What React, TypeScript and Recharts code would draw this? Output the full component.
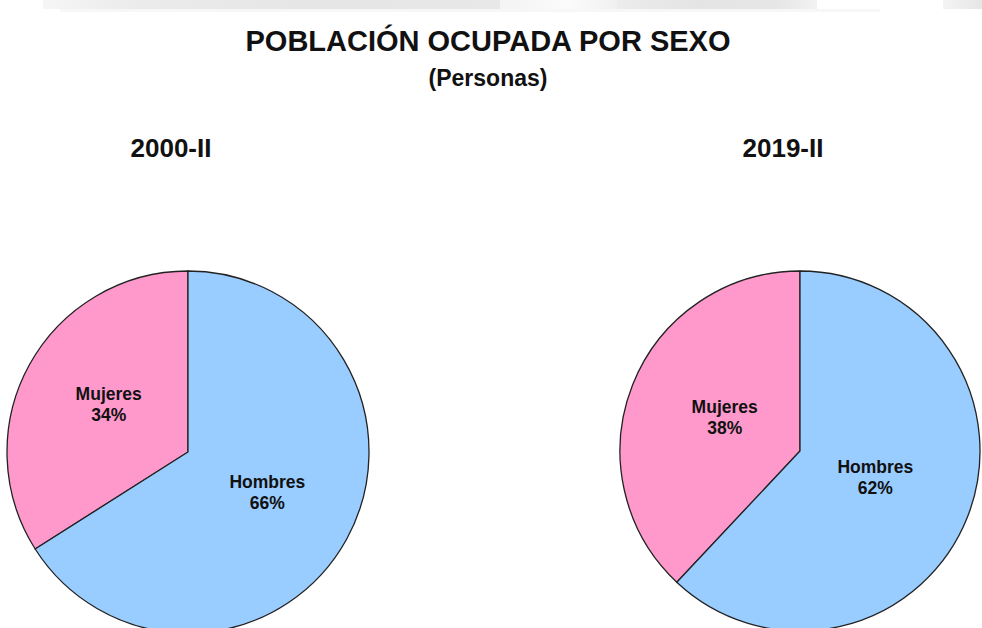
import React from 'react';
import { PieChart, Pie, Cell } from 'recharts';

const sliceNames = ['Mujeres', 'Hombres'];
const values2000 = [34, 66];
const values2019 = [38, 62];
const periodLabels = ['2000-II', '2019-II'];
const titleText = 'POBLACIÓN OCUPADA POR SEXO';
const subtitleText = '(Personas)';

const sliceColors = ['#FF99CC', '#99CCFF'];

const data2000 = sliceNames.map((name, i) => ({ name, value: values2000[i] }));
const data2019 = sliceNames.map((name, i) => ({ name, value: values2019[i] }));

const RAD = Math.PI / 180;
const FONT = '"Liberation Sans", Arial, Helvetica, sans-serif';

const makeLabel = (factor: number) => (props: any) => {
  const { cx, cy, midAngle, outerRadius, name, percent } = props;
  const r = outerRadius * factor;
  const x = cx + r * Math.cos(-midAngle * RAD);
  const y = cy + r * Math.sin(-midAngle * RAD);
  return (
    <text
      x={x}
      y={y}
      textAnchor="middle"
      fontFamily={FONT}
      fontWeight="bold"
      fontSize={17.5}
      fill="#111"
    >
      <tspan x={x} dy={-8}>{name}</tspan>
      <tspan x={x} dy={21}>{`${Math.round(percent * 100)}%`}</tspan>
    </text>
  );
};

const band = (left: number, width: number, top: number, height: number, color: string) => (
  <div style={{ position: 'absolute', left, top, width, height, background: color }} />
);

export default function App() {
  return (
    <div
      style={{
        position: 'absolute',
        left: 0,
        top: 0,
        width: 982,
        height: 628,
        background: '#ffffff',
        overflow: 'hidden',
      }}
    >
      {band(60, 820, 9, 3, '#f7f7f7')}
      {band(43, 457, 0, 9, 'linear-gradient(90deg, #f6f6f6 0%, #ebebeb 20%, #e6e6e6 60%, #e8e8e8 100%)')}
      {band(500, 117, 0, 9, 'linear-gradient(90deg, #f4f4f4 0%, #fbfbfb 60%, #f0f0f0 100%)')}
      {band(617, 200, 0, 9, 'linear-gradient(90deg, #ececec 0%, #e4e4e4 40%, #e6e6e6 80%, #f2f2f2 100%)')}
      {band(943, 39, 0, 9, 'linear-gradient(90deg, #f4f4f4 0%, #e6e6e6 100%)')}
      <div
        style={{
          position: 'absolute',
          left: 0,
          top: 23,
          width: 976,
          textAlign: 'center',
          fontFamily: FONT,
          fontWeight: 'bold',
          fontSize: 29,
          color: '#111',
          lineHeight: '36px',
        }}
      >
        {titleText}
      </div>
      <div
        style={{
          position: 'absolute',
          left: 0,
          top: 64,
          width: 976,
          textAlign: 'center',
          fontFamily: FONT,
          fontWeight: 'bold',
          fontSize: 23,
          color: '#111',
          lineHeight: '28px',
        }}
      >
        {subtitleText}
      </div>
      <div
        style={{
          position: 'absolute',
          left: 71,
          top: 133,
          width: 200,
          textAlign: 'center',
          fontFamily: FONT,
          fontWeight: 'bold',
          fontSize: 26,
          color: '#111',
          lineHeight: '30px',
        }}
      >
        {periodLabels[0]}
      </div>
      <div
        style={{
          position: 'absolute',
          left: 683,
          top: 133,
          width: 200,
          textAlign: 'center',
          fontFamily: FONT,
          fontWeight: 'bold',
          fontSize: 26,
          color: '#111',
          lineHeight: '30px',
        }}
      >
        {periodLabels[1]}
      </div>
      <div style={{ position: 'absolute', left: 0, top: 0 }}>
        <PieChart width={982} height={628} margin={{ top: 0, right: 0, bottom: 0, left: 0 }}>
          <Pie
            data={data2000}
            dataKey="value"
            nameKey="name"
            cx={188}
            cy={452}
            outerRadius={181}
            startAngle={90}
            endAngle={450}
            stroke="#222"
            strokeWidth={1.3}
            label={makeLabel(0.5)}
            labelLine={false}
            isAnimationActive={false}
          >
            {data2000.map((d, i) => (
              <Cell key={d.name} fill={sliceColors[i]} />
            ))}
          </Pie>
          <Pie
            data={data2019}
            dataKey="value"
            nameKey="name"
            cx={800}
            cy={451}
            outerRadius={180}
            startAngle={90}
            endAngle={450}
            stroke="#222"
            strokeWidth={1.3}
            label={makeLabel(0.45)}
            labelLine={false}
            isAnimationActive={false}
          >
            {data2019.map((d, i) => (
              <Cell key={d.name} fill={sliceColors[i]} />
            ))}
          </Pie>
        </PieChart>
      </div>
    </div>
  );
}
